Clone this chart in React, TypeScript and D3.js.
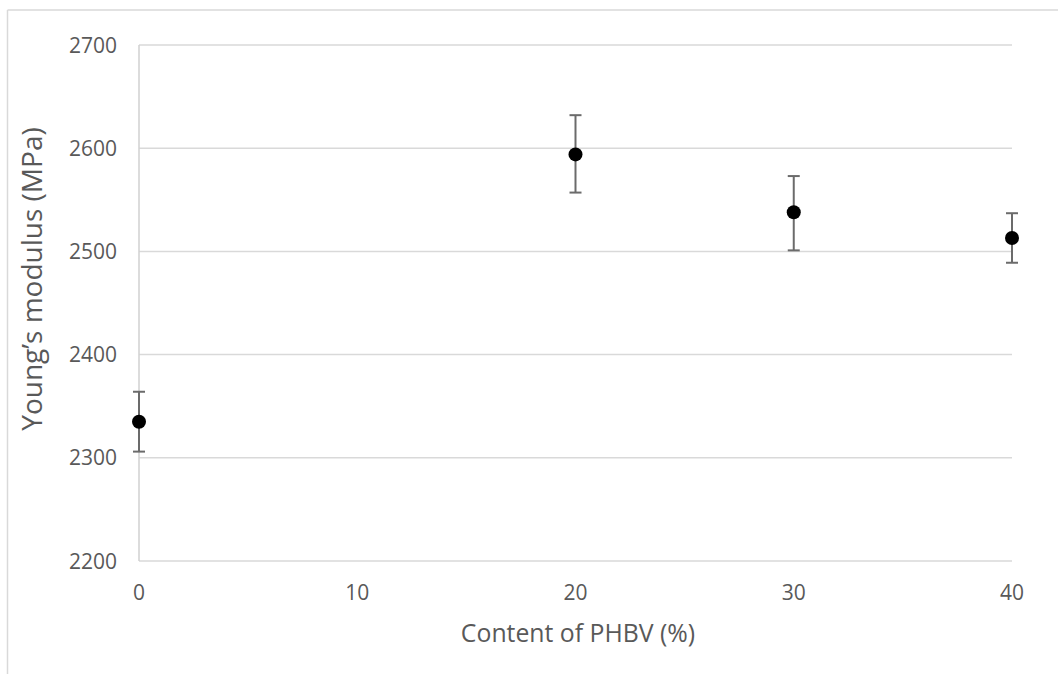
import React from "react";
import * as d3 from "d3";

const contents = [0, 20, 30, 40];
const modulus = [2335, 2594, 2538, 2513];
const errUpper = [2364, 2632, 2573, 2537];
const errLower = [2306, 2557, 2501, 2489];
const xTicks = [0, 10, 20, 30, 40];
const yTicks = [2200, 2300, 2400, 2500, 2600, 2700];

const W = 1058;
const H = 674;
const FONT = "'Open Sans', 'DejaVu Sans', sans-serif";

export default function App() {
  const x = d3.scaleLinear().domain([0, 40]).range([139, 1012]);
  const y = d3.scaleLinear().domain([2200, 2700]).range([561, 45]);
  const cap = 6;
  return (
    <svg width={W} height={H} style={{ position: "absolute", left: 0, top: 0 }}>
      <rect x={0} y={0} width={W} height={H} fill="#fff" />
      {/* outer frame */}
      <line x1={7.5} y1={10} x2={W} y2={10} stroke="#d9d9d9" strokeWidth={1.5} />
      <line x1={7.5} y1={10} x2={7.5} y2={H} stroke="#d9d9d9" strokeWidth={1.5} />
      {/* gridlines */}
      {yTicks.map((t) => (
        <line key={"g" + t} x1={x(0)} x2={x(40)} y1={y(t)} y2={y(t)} stroke="#d9d9d9" strokeWidth={1.5} />
      ))}
      <line x1={x(0)} x2={x(0)} y1={y(2700)} y2={y(2200)} stroke="#d0d0d0" strokeWidth={1.5} />
      {/* y tick labels */}
      {yTicks.map((t) => (
        <text key={"yl" + t} x={117} y={y(t) + 7.5} textAnchor="end" fontFamily={FONT} fontSize={21} fill="#595959">
          {t}
        </text>
      ))}
      {/* x tick labels */}
      {xTicks.map((t) => (
        <text key={"xl" + t} x={x(t)} y={600} textAnchor="middle" fontFamily={FONT} fontSize={21} fill="#595959">
          {t}
        </text>
      ))}
      {/* error bars */}
      {contents.map((c, i) => (
        <g key={"e" + c} stroke="#6b6b6b" strokeWidth={2}>
          <line x1={x(c)} x2={x(c)} y1={y(errUpper[i])} y2={y(errLower[i])} />
          <line x1={x(c) - cap} x2={x(c) + cap} y1={y(errUpper[i])} y2={y(errUpper[i])} />
          <line x1={x(c) - cap} x2={x(c) + cap} y1={y(errLower[i])} y2={y(errLower[i])} />
        </g>
      ))}
      {/* points */}
      {contents.map((c, i) => (
        <circle key={"p" + c} cx={x(c)} cy={y(modulus[i])} r={7} fill="#000" />
      ))}
      {/* axis titles */}
      <text x={578} y={642} textAnchor="middle" fontFamily={FONT} fontSize={24.8} fill="#595959">
        Content of PHBV (%)
      </text>
      <text
        transform={`translate(42,279) rotate(-90)`}
        textAnchor="middle"
        fontFamily={FONT}
        fontSize={28}
        fill="#595959"
      >
        Young’s modulus (MPa)
      </text>
    </svg>
  );
}
